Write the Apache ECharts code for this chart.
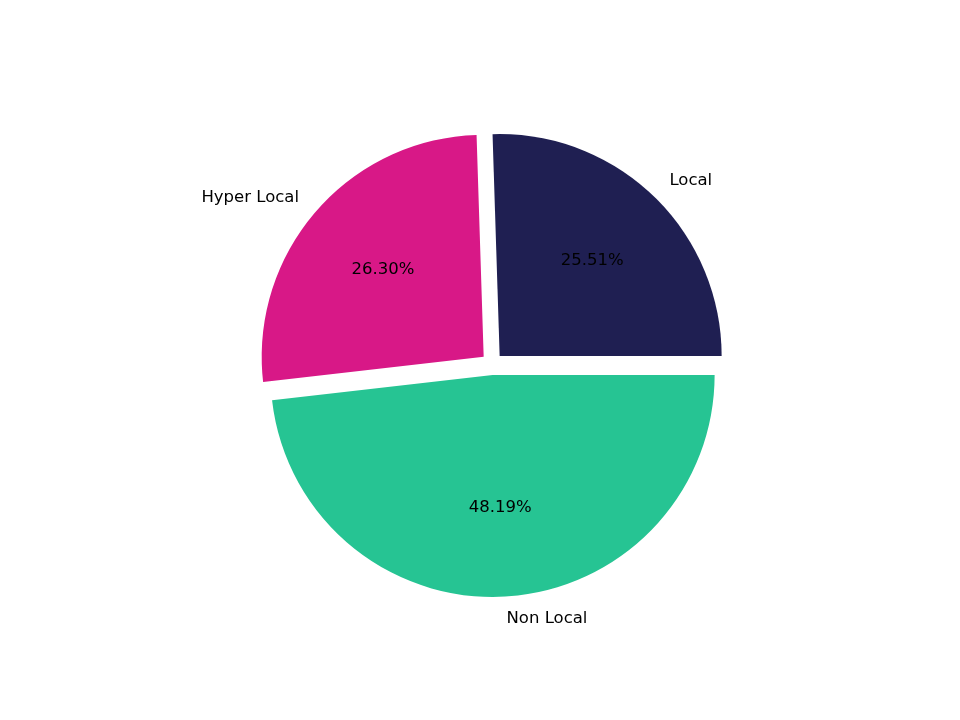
<!DOCTYPE html>
<html>
<head>
<meta charset="utf-8">
<script src="https://cdn.jsdelivr.net/npm/echarts@6/dist/echarts.min.js"></script>
<style>html,body{margin:0;padding:0;background:#fff}#c{width:960px;height:720px}</style>
</head>
<body>
<div id="c"></div>
<script>
const categories = ['Local', 'Hyper Local', 'Non Local'];
const percents = [25.51, 26.30, 48.19];
const colors = ['#1f1f52', '#d81887', '#26c493'];

const R = 222;
const CENTER = [492, 364];
const OFFSET = 11;
const FONT = 'DejaVu Sans';
const FS = 16.5;

const mainData = categories.map((c, i) => ({
  name: c, value: percents[i], selected: true,
  itemStyle: { color: colors[i] }
}));
const pctData = categories.map((c, i) => ({
  name: c, value: percents[i], selected: true,
  itemStyle: { color: 'rgba(0,0,0,0)' }
}));

const chart = echarts.init(document.getElementById('c'), null, { renderer: 'canvas' });
chart.setOption({
  animation: false,
  backgroundColor: '#ffffff',
  series: [
    {
      type: 'pie',
      center: CENTER,
      radius: R,
      startAngle: 0,
      clockwise: false,
      selectedMode: 'multiple',
      selectedOffset: OFFSET,
      avoidLabelOverlap: false,
      silent: true,
      select: { itemStyle: { borderWidth: 0 } },
      label: {
        show: true, position: 'outside', color: '#000', fontFamily: FONT, fontSize: FS,
        distanceToLabelLine: 0, formatter: '{b}'
      },
      labelLine: { show: false, length: 22, length2: 0 },
      data: mainData
    },
    {
      type: 'pie',
      center: CENTER,
      radius: 260,
      startAngle: 0,
      clockwise: false,
      selectedMode: 'multiple',
      selectedOffset: OFFSET,
      silent: true,
      z: 5,
      label: {
        show: true, position: 'inside', color: '#000', fontFamily: FONT, fontSize: FS,
        formatter: p => p.value.toFixed(2) + '%'
      },
      labelLine: { show: false },
      data: pctData
    }
  ]
});
</script>
</body>
</html>
